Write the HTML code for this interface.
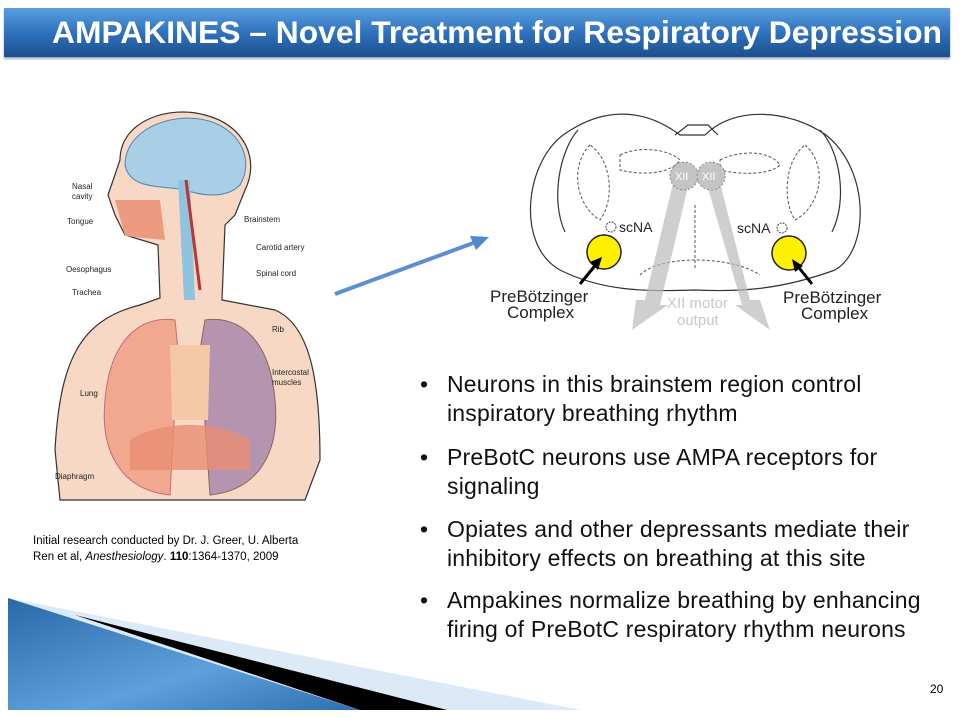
<!DOCTYPE html>
<html><head><meta charset="utf-8"><style>
body{margin:0;width:975px;height:717px;background:#fff;position:relative;overflow:hidden;font-family:"Liberation Sans",Arial,sans-serif}
.title{position:absolute;left:4px;top:8px;width:946px;height:49px;background:linear-gradient(#5a9fe0,#2f72bd 50%,#1d4f8f);box-shadow:0 2px 2px #9ab}
.title span{position:absolute;left:48px;top:6px;color:#fff;font-weight:bold;font-size:31.8px;white-space:nowrap}
.b{position:absolute;left:420px;font-size:23px;letter-spacing:0.2px;color:#111;line-height:29px}
.b i{position:absolute;left:0;font-style:normal}
.b div{margin-left:27px;width:510px}
.cap{position:absolute;left:33px;top:533px;font-size:11.5px;line-height:16px;color:#000}
</style></head><body>
<div class="title"><span>AMPAKINES – Novel Treatment for Respiratory Depression</span></div>

<svg width="975" height="717" style="position:absolute;left:0;top:0">
<defs><linearGradient id="bl" x1="0" y1="0" x2="1" y2="1"><stop offset="0" stop-color="#2a69a8"/><stop offset=".6" stop-color="#5ea0dc"/><stop offset="1" stop-color="#2e6fae"/></linearGradient></defs>
<polygon points="8,598 580,710 8,710" fill="#dce9f6"/>
<polygon points="75,615 447,710 360,710" fill="#000"/>
<polygon points="8,598 360,710 8,710" fill="url(#bl)"/>
<line x1="335" y1="294" x2="476" y2="242" stroke="#5b8fd0" stroke-width="4"/>
<polygon points="489,237 470,236 476,250" fill="#4f86cf"/>

<path d="M120,160 C120,120 170,105 205,115 C245,125 260,160 245,190 L235,215 L225,225 L222,300 L275,310 C310,325 320,380 320,460 L305,500 L60,500 L55,450 C60,360 80,320 140,305 L160,298 L158,245 L125,235 L115,215 L108,195 Z" fill="#f7d8c4" stroke="#333" stroke-width="1.2"/>
<path d="M125,165 C125,130 170,112 205,120 C240,128 255,160 240,185 C225,200 200,195 185,190 C160,185 130,190 125,165 Z" fill="#a9cfe6" stroke="#4a86b0"/>
<path d="M115,200 L160,200 L165,240 L125,236 Z" fill="#ee9a80"/>
<path d="M178,180 L184,300 L195,300 L190,180 Z" fill="#8fc3e0"/>
<path d="M186,180 L200,290" stroke="#b33" stroke-width="3" fill="none"/>
<path d="M175,320 C140,315 110,340 105,400 C100,450 120,490 170,495 L178,350 Z" fill="#f0a88e" stroke="#c67" stroke-width="1"/>
<path d="M205,320 C240,315 270,340 275,400 C280,450 260,490 210,495 L200,350 Z" fill="#b594b0" stroke="#865" stroke-width="1"/>
<path d="M170,345 L210,345 L208,420 L172,420 Z" fill="#f5c9a6"/>
<path d="M130,440 C160,420 220,420 250,440 L250,470 L130,470 Z" fill="#e88d73" opacity=".8"/>
<g font-size="8" fill="#222" font-family="Liberation Sans">
<text x="72" y="189">Nasal</text><text x="72" y="199">cavity</text>
<text x="67" y="224">Tongue</text><text x="66" y="272">Oesophagus</text>
<text x="72" y="295">Trachea</text><text x="80" y="396">Lung</text><text x="55" y="479">Diaphragm</text>
<text x="244" y="222">Brainstem</text><text x="256" y="250">Carotid artery</text>
<text x="256" y="276">Spinal cord</text><text x="272" y="332">Rib</text>
<text x="272" y="375">Intercostal</text><text x="272" y="385">muscles</text>
</g>

<g fill="none" stroke="#333" stroke-width="1.2">
<path d="M566,133 C600,110 640,105 680,135 L705,135 C735,105 790,110 826,135 C870,170 870,250 835,270 C780,290 740,292 694,290 C640,292 600,290 560,270 C515,245 525,160 566,133 Z"/>
<path d="M578,130 C560,150 550,200 565,232 M820,130 C840,150 848,200 832,232"/>
<path d="M675,135 L688,125 L708,125 L718,135"/>
</g>
<g fill="none" stroke="#555" stroke-width="1" stroke-dasharray="3,2">
<path d="M620,155 C640,145 670,150 680,160 C670,175 640,175 620,170 Z"/>
<path d="M720,160 C740,150 770,150 780,165 C770,175 740,175 720,170 Z"/>
<path d="M590,145 C570,165 575,205 600,220 C615,200 612,160 590,145 Z"/>
<path d="M805,145 C828,165 822,205 795,220 C782,200 785,160 805,145 Z"/>
<path d="M640,275 C660,255 730,255 760,275"/>
<path d="M695,205 L695,270"/>
</g>
<polygon points="675,175 690,178 660,305 668,305 632,330 636,300 645,300" fill="#bbb" opacity=".7"/>
<polygon points="705,178 718,175 750,300 760,300 770,330 735,305 742,305" fill="#bbb" opacity=".7"/>
<circle cx="684" cy="176" r="14" fill="#c4c4c4" stroke="#888" stroke-dasharray="2,2"/>
<circle cx="711" cy="176" r="14" fill="#c4c4c4" stroke="#888" stroke-dasharray="2,2"/>
<g font-size="11" fill="#fff" font-family="Liberation Sans"><text x="675" y="180">XII</text><text x="702" y="180">XII</text></g>
<circle cx="604" cy="252" r="17" fill="#ffef00" stroke="#222" stroke-width="1.5"/>
<circle cx="789" cy="253" r="17" fill="#ffef00" stroke="#222" stroke-width="1.5"/>
<circle cx="611" cy="227" r="5" fill="none" stroke="#444" stroke-dasharray="2,1"/>
<circle cx="782" cy="228" r="5" fill="none" stroke="#444" stroke-dasharray="2,1"/>
<line x1="580" y1="284" x2="598" y2="262" stroke="#000" stroke-width="3"/><polygon points="602,257 590,262 598,270" fill="#000"/>
<line x1="812" y1="284" x2="796" y2="264" stroke="#000" stroke-width="3"/><polygon points="792,259 795,272 803,266" fill="#000"/>
<g font-family="Liberation Sans" fill="#222">
<text x="619" y="232" font-size="14">scNA</text><text x="737" y="233" font-size="14">scNA</text>
<text x="490" y="302" font-size="17">PreBötzinger</text><text x="507" y="318" font-size="17">Complex</text>
<text x="783" y="303" font-size="17">PreBötzinger</text><text x="801" y="319" font-size="17">Complex</text>
<text x="667" y="308" font-size="15" fill="#c8c8c8">XII motor</text><text x="677" y="325" font-size="15" fill="#c8c8c8">output</text>
</g>
<text x="930" y="693" font-size="12" font-family="Liberation Sans">20</text>
</svg>

<div class="cap">Initial research conducted by Dr. J. Greer, U. Alberta<br>Ren et al, <i>Anesthesiology</i>. <b>110</b>:1364-1370, 2009</div>

<div class="b" style="top:370px"><i>•</i><div>Neurons in this brainstem region control<br>inspiratory breathing rhythm</div></div>
<div class="b" style="top:443px"><i>•</i><div>PreBotC neurons use AMPA receptors for<br>signaling</div></div>
<div class="b" style="top:515px"><i>•</i><div>Opiates and other depressants mediate their<br>inhibitory effects on breathing at this site</div></div>
<div class="b" style="top:586px"><i>•</i><div>Ampakines normalize breathing by enhancing<br>firing of PreBotC respiratory rhythm neurons</div></div>
</body></html>
